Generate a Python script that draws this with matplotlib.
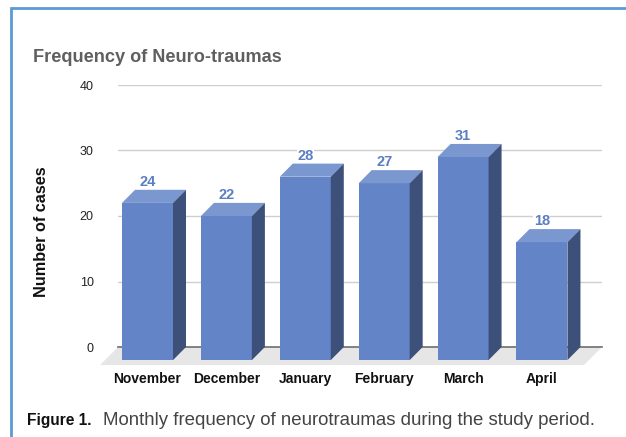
"""
Monthly frequency of neurotraumas, drawn as 3D looking bars.
"""

import matplotlib.pyplot as plt
from matplotlib.lines import Line2D

plt.rcParams['font.family'] = ['Liberation Sans', 'DejaVu Sans']

months = ['November', 'December', 'January', 'February', 'March', 'April']
cases = [24, 22, 28, 27, 31, 18]
yticks = [0, 10, 20, 30, 40]

W, H = 626, 437

# Plot
# -----------------------------------------------------------------------------

fig = plt.figure(figsize=(W / 100, H / 100), dpi=100)
ax = fig.add_axes([118 / W, 1 - 347 / H, 484 / W, 262 / H])
ax.set_xlim(-0.539, 5.596)
ax.set_ylim(0, 40)
ax.set_frame_on(False)
ax.set_xticks([])
ax.set_yticks(yticks)
ax.set_yticklabels(yticks, fontsize=9, color='#222222', va='center_baseline')
ax.tick_params(length=0)
ax.tick_params(axis='y', pad=17.5)

# depth of the fake 3D bars, in data units
dx = 0.165
dy = 2.0
bw = 0.646

for y in yticks[1:]:
    ax.plot([-0.539, 5.596], [y, y], color='#cfcfcf', lw=1, zorder=1)

# floor and base line
floor_d = 18 / 6.55
floor_dx = floor_d * 6.55 / 78.9
ax.fill([-0.539, 5.596, 5.596 - floor_dx, -0.539 - floor_dx],
        [0, 0, -floor_d, -floor_d], color='#e6e6e6', lw=0, clip_on=False, zorder=2)
ax.plot([-0.539, 5.596], [0, 0], color='#6e6e6e', lw=1.2, zorder=3, clip_on=False)

for i, (month, v) in enumerate(zip(months, cases)):
    left = i - dx - bw / 2
    right = left + bw
    # front face
    ax.bar(left, v, width=bw, bottom=-dy, align='edge', color='#6484c8', lw=0,
           clip_on=False, zorder=4)
    # top face
    ax.fill([left, right, right + dx, left + dx], [v - dy, v - dy, v, v],
            color='#7a97d0', lw=0, clip_on=False, zorder=4)
    # side face
    ax.fill([right, right + dx, right + dx, right], [-dy, 0, v, v - dy],
            color='#3d5079', lw=0, clip_on=False, zorder=4)
    ax.text(i - dx, v + 0.15, str(v), ha='center', va='bottom', fontsize=10.5,
            fontweight='bold', color='#5b7dc4', zorder=5,
            bbox=dict(facecolor='white', edgecolor='none', pad=0.3))
    ax.text(i - dx, -4.95, month, ha='center', va='center', fontsize=10,
            fontweight='bold', color='#111111', clip_on=False)

# text around the chart
fig.text(33 / W, 1 - 57.5 / H, 'Frequency of Neuro-traumas', fontsize=13.1,
         fontweight='bold', color='#5f5f5f', va='center')
fig.text(41.5 / W, 1 - 232 / H, 'Number of cases', rotation=90, fontsize=11.7,
         fontweight='bold', color='#111111', ha='center', va='center')
fig.text(27 / W, 1 - 425 / H, 'Figure 1.', fontsize=11.2, fontweight='bold',
         color='#111111', va='baseline')
fig.text(103 / W, 1 - 425 / H,
         'Monthly frequency of neurotraumas during the study period.',
         fontsize=13.4, color='#444444', va='baseline')

# blue border of the box
fig.add_artist(Line2D([10.5 / W, 10.5 / W, 1], [0, 1 - 7.5 / H, 1 - 7.5 / H],
                      color='#5b9bd5', lw=2, solid_joinstyle='miter'))

fig.savefig('out.png', dpi=100)
